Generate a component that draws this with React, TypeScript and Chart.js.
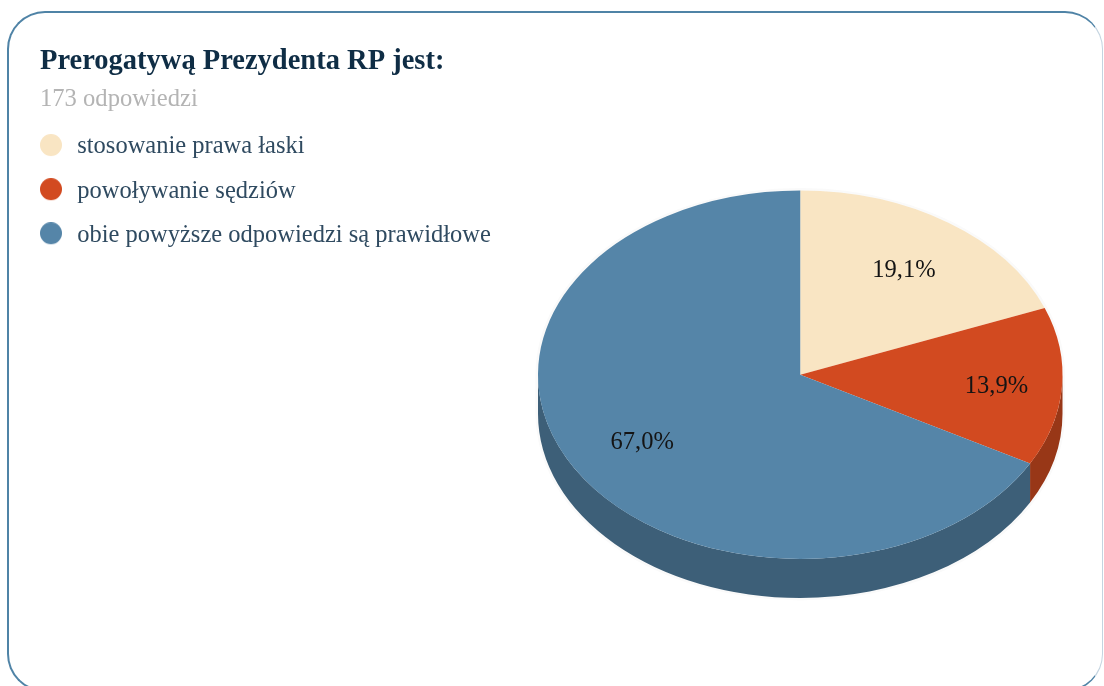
import React, { useEffect, useRef } from "react";
import { Chart, registerables } from "chart.js";

Chart.register(...registerables);

const titleText = "Prerogatywą Prezydenta RP jest:";
const subtitleText = "173 odpowiedzi";
const categories = ["stosowanie prawa łaski", "powoływanie sędziów", "obie powyższe odpowiedzi są prawidłowe"];
const values = [19.1, 13.9, 67.0];
const valueLabels = ["19,1%", "13,9%", "67,0%"];
const sliceColors = ["#f9e5c3", "#d24a20", "#5585a8"];
const wallColors = ["#b8a98f", "#983717", "#3d5f78"];
const labelRadiusFractions = [0.7, 0.75, 0.7];

const FONT = '"Liberation Serif", serif';
const SQUASH = 184 / 262;
const DEPTH = 39;

function dot(color: string) {
  const c = document.createElement("canvas");
  c.width = 25;
  c.height = 26;
  const g = c.getContext("2d")!;
  g.fillStyle = color;
  g.beginPath();
  g.arc(11, 11, 11, 0, Math.PI * 2);
  g.fill();
  return c;
}

const pie3d = {
  id: "pie3d",
  afterLayout(chart: any) {
    if (chart.legend) {
      chart.legend.left = 20.4;
      chart.legend.top = 115.2;
    }
  },
  beforeDatasetsDraw(chart: any) {
    const ctx = chart.ctx;
    const arcs = chart.getDatasetMeta(0).data;
    const { x: cx, y: cy, outerRadius: r } = arcs[0];
    const ry = r * SQUASH;
    ctx.save();
    ctx.strokeStyle = "#fafafa";
    ctx.lineWidth = 3;
    ctx.beginPath();
    ctx.ellipse(cx, cy, r + 1, ry + 1, 0, Math.PI, Math.PI * 2);
    ctx.ellipse(cx, cy + DEPTH, r + 1, ry + 1, 0, 0, Math.PI);
    ctx.closePath();
    ctx.stroke();
    arcs.forEach((arc: any, i: number) => {
      const a = Math.max(arc.startAngle, 0);
      const b = Math.min(arc.endAngle, Math.PI);
      if (b <= a) return;
      ctx.fillStyle = wallColors[i];
      ctx.beginPath();
      ctx.ellipse(cx, cy, r, ry, 0, a, b);
      ctx.ellipse(cx, cy + DEPTH, r, ry, 0, b, a, true);
      ctx.closePath();
      ctx.fill();
    });
    ctx.translate(cx, cy);
    ctx.scale(1, SQUASH);
    ctx.translate(-cx, -cy);
  },
  afterDatasetsDraw(chart: any) {
    const ctx = chart.ctx;
    ctx.restore();
    const arcs = chart.getDatasetMeta(0).data;
    ctx.save();
    ctx.font = `24.5px ${FONT}`;
    ctx.fillStyle = "#141414";
    ctx.textAlign = "center";
    ctx.textBaseline = "middle";
    arcs.forEach((arc: any, i: number) => {
      const mid = (arc.startAngle + arc.endAngle) / 2;
      const rr = arc.outerRadius * labelRadiusFractions[i];
      ctx.fillText(valueLabels[i], arc.x + Math.cos(mid) * rr, arc.y + Math.sin(mid) * rr * SQUASH + 2.5);
    });
    ctx.restore();
  },
};

export default function App() {
  const ref = useRef<HTMLCanvasElement>(null);
  useEffect(() => {
    const chart = new Chart(ref.current!, {
      type: "pie",
      data: {
        labels: categories,
        datasets: [{ data: values, backgroundColor: sliceColors, borderWidth: 0, hoverOffset: 0, clip: false } as any],
      },
      options: {
        animation: false,
        responsive: false,
        events: [],
        layout: { padding: { left: 40, top: 30, right: 24, bottom: 49 } },
        plugins: {
          tooltip: { enabled: false },
          title: {
            display: true,
            text: titleText,
            align: "start",
            color: "#0f2d45",
            font: { family: FONT, size: 28.5, weight: "bold", lineHeight: 31 / 28.5 },
            padding: { top: 16.5, bottom: 8 },
          },
          subtitle: {
            display: true,
            text: subtitleText,
            align: "start",
            color: "#b4b4b4",
            font: { family: FONT, size: 24.6, lineHeight: 25 / 24.6 },
            padding: { top: 2, bottom: 0 },
          },
          legend: {
            display: true,
            position: "left",
            align: "start",
            labels: {
              usePointStyle: true,
              pointStyleWidth: 25,
              boxHeight: 22,
              padding: 19.6,
              font: { family: FONT, size: 24.5 },
              generateLabels: () =>
                categories.map((text, i) => ({
                  text,
                  fontColor: "#2f4a60",
                  pointStyle: dot(sliceColors[i]),
                  fillStyle: sliceColors[i],
                  strokeStyle: sliceColors[i],
                  lineWidth: 0,
                  hidden: false,
                  index: i,
                })),
            },
          },
        },
      } as any,
      plugins: [pie3d],
    });
    return () => chart.destroy();
  }, []);

  return (
    <div style={{ position: "fixed", inset: 0, overflow: "hidden", background: "#fff" }}>
      <div
        style={{
          position: "absolute",
          left: 7,
          top: 11,
          width: 1096,
          height: 681,
          boxSizing: "border-box",
          border: "2px solid #4f83a6",
          borderRight: "1px solid #c4d4e0",
          borderRadius: 38,
          filter: "blur(0.4px)",
        }}
      />
      <canvas
        ref={ref}
        width={1104}
        height={686}
        style={{ position: "absolute", left: 0, top: 0, display: "block", filter: "blur(0.5px)" }}
      />
    </div>
  );
}
